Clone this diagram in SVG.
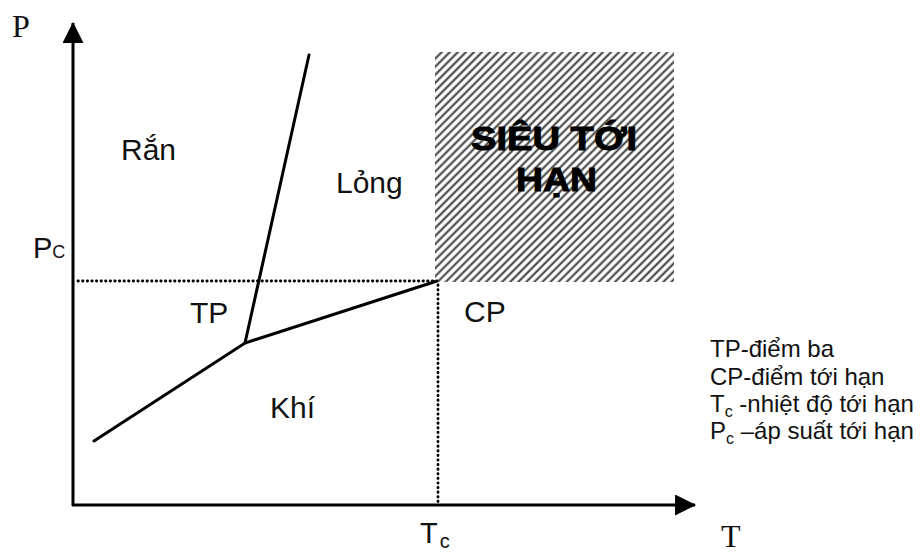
<svg xmlns="http://www.w3.org/2000/svg" width="920" height="554" viewBox="0 0 920 554">
  <style>
    .axis { stroke: #000; stroke-width: 3; fill: none; }
    .curve { stroke: #000; stroke-width: 3; fill: none; stroke-linecap: round; }
    .dots { stroke: #000; stroke-width: 2.8; fill: none; stroke-dasharray: 0.4 4.2; stroke-linecap: round; }
    .sans { font-family: "Liberation Sans", Arial, sans-serif; fill: #111; }
    .serif { font-family: "Liberation Serif", "Times New Roman", serif; fill: #111; }
    .region { font-size: 30px; }
    .legend { font-size: 24px; }
    .big { font-size: 33px; font-weight: bold; fill: #000; stroke: #000; stroke-width: 1; }
  </style>
  <defs>
    <pattern id="hatch" patternUnits="userSpaceOnUse" width="5.7" height="10" patternTransform="rotate(45)">
      <line x1="1.5" y1="0" x2="1.5" y2="10" stroke="#3a3a3a" stroke-width="2"/>
    </pattern>
    <marker id="arrow" viewBox="0 0 10 10" refX="9.5" refY="5" markerWidth="7.5" markerHeight="7" markerUnits="strokeWidth" orient="auto">
      <path d="M0,0 L10,5 L0,10 Z" fill="#000"/>
    </marker>
  </defs>

  <rect width="920" height="554" fill="#fff"/>

  <!-- supercritical region -->
  <g id="supercritical">
    <rect x="435" y="52" width="239" height="230" fill="url(#hatch)"/>
    <text class="sans big" x="471" y="150" textLength="166" lengthAdjust="spacingAndGlyphs">SIÊU TỚI</text>
    <text class="sans big" x="516" y="191" textLength="81" lengthAdjust="spacingAndGlyphs">HẠN</text>
  </g>

  <!-- axes and phase boundaries -->
  <g id="connectors">
    <line class="axis" x1="73" y1="506" x2="73" y2="23" marker-end="url(#arrow)"/>
    <line class="axis" x1="72" y1="505" x2="695" y2="505" marker-end="url(#arrow)"/>
    <line class="dots" x1="78" y1="281" x2="436" y2="281"/>
    <line class="dots" x1="438" y1="285" x2="438" y2="502"/>
    <polyline class="curve" points="94,441 245,343 437,281"/>
    <line class="curve" x1="245" y1="343" x2="309" y2="55"/>
  </g>

  <g id="axis-p"><text class="serif" x="12" y="37" font-size="32">P</text></g>
  <g id="axis-t"><text class="serif" x="721" y="547" font-size="32">T</text></g>
  <g id="label-pc"><text class="sans" x="33" y="258" font-size="29">P<tspan font-size="18">C</tspan></text></g>
  <g id="label-tc"><text class="sans" x="420" y="543" font-size="29">T<tspan font-size="20" dx="2" dy="5">c</tspan></text></g>

  <g id="solid"><text class="sans region" x="121" y="160">Rắn</text></g>
  <g id="liquid"><text class="sans region" x="336" y="193">Lỏng</text></g>
  <g id="triple-point"><text class="sans region" x="190" y="323">TP</text></g>
  <g id="critical-point"><text class="sans region" x="464" y="322">CP</text></g>
  <g id="gas"><text class="sans region" x="270" y="418">Khí</text></g>

  <g id="legend" class="sans legend">
    <text x="710" y="357">TP-điểm ba</text>
    <text x="710" y="385">CP-điểm tới hạn</text>
    <text x="710" y="412">T<tspan font-size="16" dy="5">c</tspan><tspan dy="-5"> -nhiệt độ tới hạn</tspan></text>
    <text x="710" y="439">P<tspan font-size="16" dy="5">c</tspan><tspan dy="-5"> –áp suất tới hạn</tspan></text>
  </g>
</svg>
